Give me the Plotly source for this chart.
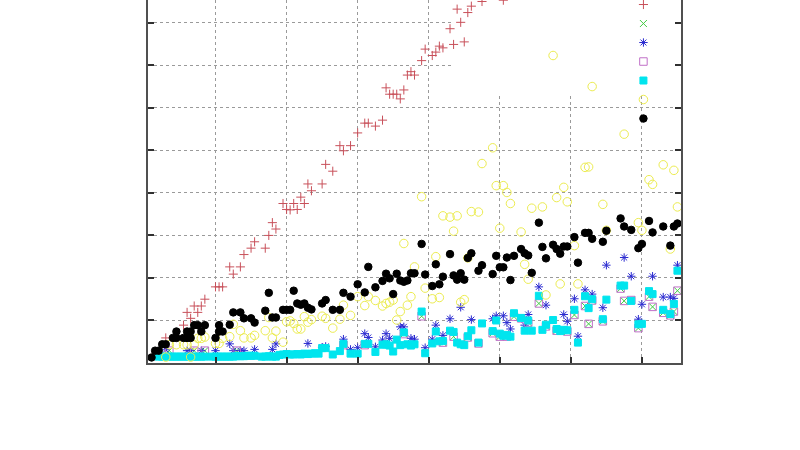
import plotly.graph_objects as go

# ---------------- data (x = sample index, y = value in grid units) ----------------
red_x = [6, 11, 12, 13, 14, 15, 16, 17, 20, 21, 22, 24, 25, 27, 28, 30, 31, 34, 35, 36, 37,
         39, 40, 41, 42, 43, 44, 45, 46, 47, 50, 51, 53, 55, 56, 58, 60, 62, 63, 65, 67,
         68, 69, 70, 71, 72, 73, 74, 75, 76, 78, 79, 81, 82, 83, 84, 86, 87, 88, 89, 90,
         91, 92, 95, 101]
red_y = [0.59, 0.89, 1.19, 1.05, 1.34, 1.19, 1.34, 1.50, 1.79, 1.79, 1.79, 2.26, 2.09, 2.26,
         2.55, 2.70, 2.85, 2.70, 3.00, 3.30, 3.15, 3.75, 3.61, 3.60, 3.75, 3.61, 3.90, 3.75,
         4.21, 4.05, 4.21, 4.67, 4.51, 5.11, 4.99, 5.11, 5.41, 5.64, 5.64, 5.57, 5.71,
         6.47, 6.32, 6.32, 6.32, 6.21, 6.42, 6.77, 6.85, 6.77, 7.11, 7.38, 7.23, 7.31, 7.45,
         7.41, 7.86, 7.49, 8.32, 8.01, 7.55, 8.24, 8.39, 8.50, 8.53]

green_x = [7, 14, 17, 26, 56, 62, 73, 78, 84, 87, 91, 94, 98, 100, 102, 104, 106, 108, 111,
           113, 116, 119, 121, 124, 125, 126, 129, 134, 135, 137, 139, 142, 143, 146, 148,
           149, 150]
green_y = [0.29, 0.29, 0.29, 0.29, 0.42, 0.42, 0.68, 1.10, 0.48, 0.62, 0.60, 0.46, 0.70, 0.62,
           0.62, 1.09, 1.05, 0.95, 1.40, 0.86, 0.76, 0.74, 1.13, 1.34, 0.92, 1.47, 0.98,
           1.75, 1.46, 1.48, 0.82, 1.56, 1.32, 1.18, 1.12, 1.21, 1.70]

blue_x = [6, 12, 13, 16, 20, 24, 25, 27, 28, 31, 36, 37, 46, 50, 51, 56, 58, 60, 62, 63,
          65, 67, 68, 69, 72, 73, 75, 76, 79, 81, 82, 84, 86, 89, 92, 98, 99, 101, 102, 103,
          107, 108, 111, 113, 118, 119, 121, 122, 124, 126, 129, 130, 135, 137, 139, 140,
          143, 146, 148, 149, 150]
blue_y = [0.31, 0.29, 0.29, 0.29, 0.29, 0.45, 0.29, 0.29, 0.29, 0.32, 0.32, 0.45, 0.46, 0.37,
          0.39, 0.56, 0.32, 0.36, 0.69, 0.60, 0.38, 0.54, 0.69, 0.58, 0.85, 0.85, 0.58, 0.56,
          0.36, 0.56, 0.89, 0.65, 1.04, 1.31, 1.02, 1.04, 1.11, 1.11, 0.95, 0.80, 0.89, 1.14,
          1.79, 1.36, 1.14, 0.98, 1.51, 0.63, 1.72, 1.62, 1.30, 2.30, 2.48, 2.04, 1.03, 1.38,
          2.04, 1.55, 1.55, 1.52, 2.30]

magenta_x = [7, 14, 17, 26, 56, 62, 73, 78, 84, 87, 91, 94, 98, 100, 102, 104, 106, 108, 111,
             113, 116, 119, 121, 124, 125, 126, 129, 134, 135, 137, 139, 142, 143, 146, 148,
             149, 150]
magenta_y = [0.29, 0.29, 0.29, 0.29, 0.42, 0.42, 0.68, 1.10, 0.48, 0.62, 0.60, 0.46, 0.70, 0.62,
             0.62, 1.09, 1.05, 0.95, 1.40, 0.86, 0.76, 0.74, 1.13, 1.34, 0.92, 1.47, 0.98,
             1.75, 1.46, 1.48, 0.82, 1.56, 1.32, 1.18, 1.12, 1.21, 1.70]

cyan_x = [4, 5, 6, 7, 8, 9, 10, 11, 12, 13, 14, 15, 16, 17,
          19, 20, 21, 22, 23, 24, 25, 26, 27, 28, 29, 30, 31,
          33, 34, 35, 36, 37,
          38, 39, 40, 41, 42, 43, 44, 45, 46, 47, 48, 49,
          50, 51, 53, 55, 56, 58, 60, 62, 63, 65, 67, 68, 69, 70, 71, 72, 73, 74, 75, 76,
          78, 79, 81, 82, 83, 84, 86, 87, 88, 89, 90, 91, 92, 94, 95, 98, 99, 100, 101,
          102, 103, 104, 106, 107, 108, 109, 111, 112, 113, 115, 116, 117, 118, 119, 121,
          122, 124, 125, 126, 129, 130, 134, 135, 137, 139, 140, 142, 143, 146, 148, 149, 150]
cyan_y = [0.15, 0.15, 0.15, 0.15, 0.15, 0.15, 0.15, 0.15, 0.15, 0.15, 0.15, 0.15, 0.15, 0.15,
          0.15, 0.15, 0.15, 0.15, 0.15, 0.15, 0.15, 0.16, 0.16, 0.16, 0.17, 0.17, 0.17,
          0.15, 0.15, 0.16, 0.15, 0.15,
          0.19, 0.20, 0.21, 0.20, 0.20, 0.21, 0.20, 0.22, 0.21, 0.22, 0.23, 0.22,
          0.35, 0.35, 0.20, 0.28, 0.45, 0.22, 0.22, 0.45, 0.45, 0.26, 0.43, 0.44, 0.41, 0.27,
          0.55, 0.42, 0.72, 0.44, 0.41, 0.44,
          1.21, 0.23, 0.46, 0.74, 0.51, 0.52, 0.76, 0.73, 0.48, 0.44, 0.42, 0.63, 0.77, 0.48,
          0.93, 0.75, 1.00, 0.69, 0.64,
          0.66, 0.62, 1.17, 1.06, 0.76, 1.00, 0.76, 1.58, 0.78, 0.90, 1.01, 0.80, 0.75, 0.78,
          0.77, 1.25,
          0.48, 1.57, 1.29, 1.50, 1.03, 1.49, 1.82, 1.82, 1.46, 0.91, 0.92, 1.69, 1.62, 1.25,
          1.15, 1.39, 2.17]

yellow_x = [6, 7, 9, 11, 12, 13, 14, 15, 16, 17, 20, 21, 22, 24, 25, 27, 28, 30, 31, 34, 35,
            36, 37, 39, 40, 41, 42, 43, 44, 45, 46, 47, 50, 51, 53, 55, 56, 58, 60, 62, 63,
            65, 67, 68, 69, 70, 71, 72, 73, 74, 75, 76, 78, 79, 81, 82, 83, 84, 86, 87, 88,
            89, 90, 91, 92, 94, 95, 98, 99, 100, 101, 102, 103, 106, 107, 108, 109, 112, 113,
            115, 116, 117, 118, 119, 121, 122, 124, 125, 126, 129, 130, 135, 139, 140, 142,
            143, 146, 148, 149, 150]
yellow_y = [0.14, 0.43, 0.43, 0.43, 0.43, 0.14, 0.43, 0.58, 0.58, 0.61, 0.46, 0.46, 0.58, 0.62,
            0.91, 0.76, 0.59, 0.59, 0.65, 0.76, 1.07, 0.59, 0.75, 0.49, 0.97, 0.99, 0.93,
            0.80, 0.80, 1.09, 0.96, 1.02, 1.10, 1.05, 0.82, 1.03, 1.36, 1.12, 1.56, 1.35,
            1.56, 1.47, 1.34, 1.40, 1.43, 1.48, 1.01, 1.21, 2.81, 1.36, 1.56, 2.26, 3.91,
            1.76, 1.51, 2.50, 1.54, 3.46, 3.43, 3.10, 3.46, 1.43, 1.49, 2.47, 3.56, 3.55,
            4.69, 5.06, 4.17, 3.17, 4.17, 4.01, 3.75, 3.08, 2.32, 1.97, 3.64, 3.67, 1.60,
            7.23, 3.89, 1.86, 4.13, 3.79, 2.76, 1.86, 4.60, 4.61, 6.50, 3.73, 3.12, 5.38,
            3.30, 3.12, 4.31, 4.20, 4.66, 2.68, 4.53, 3.67]

black_x = [2, 3, 4, 5, 6, 8, 9, 9, 11, 12, 12, 13, 13, 14, 15, 16, 17, 20, 21, 21, 22, 24, 25,
           27, 28, 30, 31, 34, 35, 36, 37, 39, 40, 41, 42, 43, 44, 45, 46, 47, 50, 51, 53, 55,
           56, 58, 60, 62, 63, 65, 67, 68, 69, 70, 71, 72, 73, 74, 75, 76, 78, 79, 81, 82,
           83, 84, 86, 87, 88, 89, 90, 91, 92, 94, 95, 98, 99, 100, 101, 102, 103, 104, 106,
           107, 108, 109, 111, 112, 113, 115, 116, 117, 118, 119, 121, 122, 124, 125, 126,
           129, 130, 134, 135, 137, 139, 140, 142, 143, 146, 148, 149, 150]
black_y = [0.13, 0.29, 0.29, 0.44, 0.44, 0.59, 0.59, 0.74, 0.59, 0.59, 0.74, 0.59, 0.74, 0.89,
           0.89, 0.74, 0.89, 0.59, 0.74, 0.89, 0.74, 0.90, 1.19, 1.19, 1.05, 1.05, 0.95,
           1.23, 1.65, 1.07, 1.07, 1.25, 1.25, 1.25, 1.70, 1.40, 1.37, 1.40, 1.30, 1.26,
           1.40, 1.48, 1.25, 1.25, 1.65, 1.56, 1.85, 1.66, 2.26, 1.78, 1.93, 2.10, 1.99,
           1.62, 2.10, 1.94, 1.91, 1.94, 2.11, 2.11, 2.80, 2.08, 1.81, 2.32, 1.85, 2.03,
           2.56, 2.06, 1.96, 2.11, 1.96, 2.47, 2.58, 2.17, 2.30, 2.09, 2.52, 2.25, 2.25,
           2.48, 1.95, 2.52, 2.68, 2.58, 2.53, 2.12, 3.30, 2.73, 2.46, 2.78, 2.68, 2.57,
           2.74, 2.74, 2.96, 2.36, 3.06, 3.06, 2.92, 2.85, 3.11, 3.40, 3.21, 3.13, 2.70,
           2.80, 3.34, 3.07, 3.21, 2.76, 3.21, 3.28]

x_range = [1, 151]
y_range = [0, 8.535]
key_box = dict(x0=86.6, x1=151, y0=6.30, y1=9)

# ---------------- figure ----------------
series = [
    (red_x, red_y, "cross-thin-open", 6.5, "#c8505a"),
    (green_x, green_y, "x-thin-open", 7, "#44cc44"),
    (blue_x, blue_y, "asterisk-open", 7, "#2a2ad0"),
    (magenta_x, magenta_y, "square-open", 7.5, "#c070c8"),
    (cyan_x, cyan_y, "square", 7, "#00e5ee"),
    (yellow_x, yellow_y, "circle-open", 8.5, "#ecec50"),
    (black_x, black_y, "circle", 7.5, "#000000"),
]

fig = go.Figure()
for xs, ys, sym, size, col in series:
    assert len(xs) == len(ys)
    fig.add_trace(go.Scatter(
        x=xs, y=ys, mode="markers", name="",
        marker=dict(symbol=sym, size=size, color=col, line=dict(color=col, width=1)),
    ))

fig.add_shape(type="rect", xref="x", yref="y", layer="between",
              fillcolor="white", line=dict(width=0), **key_box)

axis_common = dict(
    showgrid=True, gridcolor="#9a9a9a", griddash="dot", gridwidth=1,
    showline=True, linecolor="#505050", linewidth=1.5,
    ticks="inside", ticklen=6, tickwidth=1.5, tickcolor="#303030",
    showticklabels=False, zeroline=False,
)
fig.update_xaxes(range=x_range, tick0=0, dtick=20, mirror=False, **axis_common)
fig.update_yaxes(range=y_range, tick0=0, dtick=1, mirror="ticks", **axis_common)

fig.update_layout(
    width=800, height=450,
    margin=dict(l=148, r=119, t=0, b=87, autoexpand=False),
    paper_bgcolor="white", plot_bgcolor="white",
    showlegend=True,
    legend=dict(x=0.892, y=1.0275, xanchor="left", yanchor="top",
                bgcolor="rgba(0,0,0,0)", font=dict(size=10), tracegroupgap=0,
                itemwidth=30),
)

fig.write_html("out.html", config={"displayModeBar": False},
               post_script="document.body.style.margin='0';")
